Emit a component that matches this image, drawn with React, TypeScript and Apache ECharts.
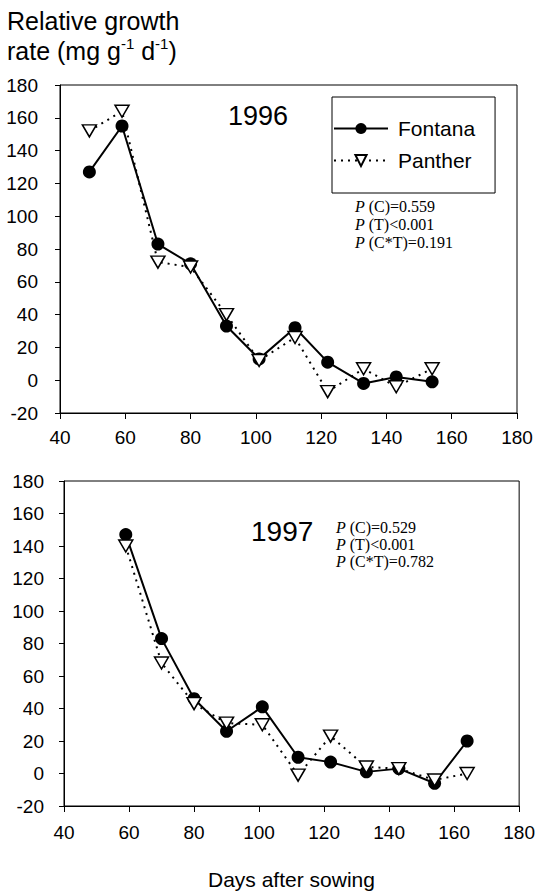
import React, { useEffect, useRef } from "react";
import * as echarts from "echarts";

const xTicks = [40, 60, 80, 100, 120, 140, 160, 180];
const yTicks = [-20, 0, 20, 40, 60, 80, 100, 120, 140, 160, 180];

const days1996 = [49, 59, 70, 80, 91, 101, 112, 122, 133, 143, 154];
const fontana1996 = [127, 155, 83, 71, 33, 13, 32, 11, -2, 2, -1];
const panther1996 = [152, 164, 72, 69, 40, 12, 26, -7, 7, -4, 7];

const days1997 = [59, 70, 80, 90, 101, 112, 122, 133, 143, 154, 164];
const fontana1997 = [147, 83, 46, 26, 41, 10, 7, 1, 3, -6, 20];
const panther1997 = [140, 68, 43, 31, 30, -1, 23, 4, 3, -4, 0];

const pText1996 = ["{i|P} (C)=0.559", "{i|P} (T)<0.001", "{i|P} (C*T)=0.191"];
const pText1997 = ["{i|P} (C)=0.529", "{i|P} (T)<0.001", "{i|P} (C*T)=0.782"];

const SANS = "Arial, 'Liberation Sans', sans-serif";
const SERIF = "'Times New Roman', 'Liberation Serif', serif";

function pairs(xs: number[], ys: number[]) {
  return xs.map((x, i) => [x, ys[i]]);
}

export default function App() {
  const ref = useRef<HTMLDivElement>(null);
  useEffect(() => {
    document.body.style.margin = "0";
    const chart = echarts.init(ref.current!, null, { renderer: "svg" });

    const xAxisBase = (gridIndex: number, margin: number) => ({
      type: "value",
      gridIndex,
      min: xTicks[0],
      max: xTicks[xTicks.length - 1],
      interval: 20,
      splitLine: { show: false },
      axisLine: { onZero: false, lineStyle: { color: "#000", width: 1 } },
      axisTick: { length: 6, lineStyle: { color: "#000" } },
      axisLabel: { color: "#000", fontSize: 19, fontFamily: SANS, margin },
    });
    const yAxisBase = (gridIndex: number, margin: number) => ({
      type: "value",
      gridIndex,
      min: yTicks[0],
      max: yTicks[yTicks.length - 1],
      interval: 20,
      splitLine: { show: false },
      axisLine: { lineStyle: { color: "#000", width: 1 } },
      axisTick: { length: 5, lineStyle: { color: "#000" } },
      axisLabel: { color: "#000", fontSize: 19, fontFamily: SANS, margin },
    });

    const fontanaStyle = {
      type: "line",
      symbol: "circle",
      symbolSize: 13,
      itemStyle: { color: "#000" },
      lineStyle: { color: "#000", width: 2 },
      z: 2,
    };
    const pantherStyle = {
      type: "line",
      symbol: "triangle",
      symbolSize: [14, 12],
      symbolRotate: 180,
      itemStyle: { color: "#fff", borderColor: "#000", borderWidth: 1.5 },
      lineStyle: { color: "#000", width: 2, type: [2, 5] },
      z: 3,
    };

    const pGraphics = (lines: string[], left: number, firstY: number, step: number) =>
      lines.map((t, i) => ({
        type: "text",
        left,
        top: firstY + i * step - 9,
        style: {
          text: t,
          fill: "#000",
          font: `16px ${SERIF}`,
          rich: { i: { fontStyle: "italic", fontSize: 16, fontFamily: SERIF } },
        },
      }));

    chart.setOption({
      animation: false,
      backgroundColor: "#fff",
      title: {
        left: 7,
        top: 6,
        padding: 0,
        text: "Relative growth\nrate (mg g{sup|-1} d{sup|-1})",
        textStyle: {
          color: "#000",
          fontSize: 25,
          fontWeight: "normal",
          fontFamily: SANS,
          lineHeight: 30,
          rich: {
            sup: { fontSize: 15, fontFamily: SANS, color: "#000", verticalAlign: "top", lineHeight: 16 },
          },
        },
      },
      legend: {
        data: ["Fontana", "Panther"],
        orient: "vertical",
        left: 332,
        top: 97,
        itemWidth: 54,
        itemHeight: 14,
        itemGap: 11,
        padding: [21, 20, 22, 1],
        borderColor: "#000",
        borderWidth: 1,
        selectedMode: false,
        textStyle: { color: "#000", fontSize: 21, fontFamily: SANS, padding: [0, 0, 0, 5] },
      },
      grid: [
        { left: 60, top: 85, width: 457, height: 328, show: true, borderColor: "#000", borderWidth: 1 },
        { left: 64, top: 481, width: 457, height: 325, show: true, borderColor: "#000", borderWidth: 1 },
      ],
      xAxis: [xAxisBase(0, 15), xAxisBase(1, 17)],
      yAxis: [yAxisBase(0, 22), yAxisBase(1, 20)],
      series: [
        { ...fontanaStyle, name: "Fontana", xAxisIndex: 0, yAxisIndex: 0, data: pairs(days1996, fontana1996) },
        { ...pantherStyle, name: "Panther", xAxisIndex: 0, yAxisIndex: 0, data: pairs(days1996, panther1996) },
        { ...fontanaStyle, name: "Fontana", xAxisIndex: 1, yAxisIndex: 1, data: pairs(days1997, fontana1997) },
        { ...pantherStyle, name: "Panther", xAxisIndex: 1, yAxisIndex: 1, data: pairs(days1997, panther1997) },
      ],
      graphic: [
        {
          type: "text",
          left: 228,
          top: 102,
          style: { text: "1996", fill: "#000", font: `27px ${SANS}` },
        },
        {
          type: "text",
          left: 251,
          top: 517,
          style: { text: "1997", fill: "#000", font: `28px ${SANS}` },
        },
        ...pGraphics(pText1996, 355, 207, 18),
        ...pGraphics(pText1997, 336, 528, 17),
        {
          type: "text",
          left: 208,
          top: 869,
          style: { text: "Days after sowing", fill: "#000", font: `21px ${SANS}` },
        },
      ],
    });
    return () => chart.dispose();
  }, []);
  return <div ref={ref} style={{ width: 538, height: 893 }} />;
}
